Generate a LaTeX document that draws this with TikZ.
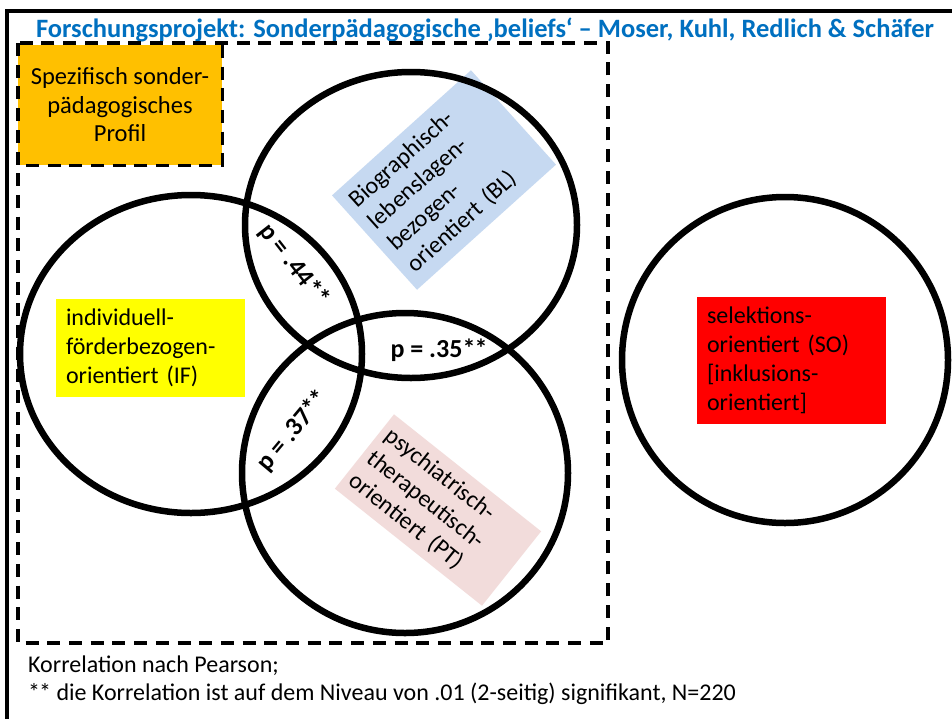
\documentclass[tikz,border=0pt]{standalone}
\usepackage{fontspec}
\setmainfont{Carlito}
\definecolor{titleblue}{RGB}{0,112,192}
\definecolor{profilorange}{RGB}{255,192,0}
\definecolor{ifyellow}{RGB}{255,255,0}
\definecolor{sored}{RGB}{255,0,0}
\definecolor{blblue}{RGB}{198,217,241}
\definecolor{ptpink}{RGB}{242,220,219}
\tikzset{
  dashbox/.style={line width=3.3pt, dash pattern=on 13pt off 8.7pt},
  ring/.style={line width=6.5pt},
  labeltext/.style={font=\fontsize{24}{29}\selectfont, text=black},
  corr/.style={font=\fontsize{26}{30}\selectfont\bfseries, text=black, inner sep=0pt},
  foot/.style={font=\fontsize{24}{28}\selectfont, anchor=base west, inner sep=0pt},
}
\begin{document}
\begin{tikzpicture}[x=1pt,y=-1pt]
\useasboundingbox (0,0) rectangle (952,718);
\fill[white] (0,0) rectangle (952,718);
% outer frame (cropped)
\begin{scope}
\clip (0,0) rectangle (952,718);
\draw[line width=4pt] (7,11) rectangle (990,760);
\end{scope}
% title
\node[font=\fontsize{26.5}{30}\selectfont\bfseries, text=titleblue, inner sep=0pt, anchor=base] (title) at (485,37) {Forschungsprojekt: Sonderpädagogische ‚beliefs‘ – Moser, Kuhl, Redlich \& Schäfer};
% orange profile box
\node[fill=profilorange, minimum width=204pt, minimum height=120pt, inner sep=0pt, font=\fontsize{24.5}{28.5}\selectfont, align=center] (profil) at (120,105) {Spezifisch sonder-\\pädagogisches\\Profil};
% big dashed box
\draw[dashbox] (18,43) rectangle (608,643);
\draw[dashbox] (profil.north east) -- (profil.south east) -- (profil.south west);
% rotated boxes
\node[fill=blblue, rotate=42, minimum width=187pt, minimum height=122pt, text width=167pt, inner sep=10pt, align=left, labeltext] (bl) at (444,180) {Biographisch-\\lebenslagen-\\bezogen-\\orientiert (BL)};
\node[fill=ptpink, rotate=-38.5, minimum width=188pt, minimum height=95pt, text width=174pt, inner sep=7pt, align=left, labeltext] (pt) at (438,510) {psychiatrisch-\\therapeutisch-\\orientiert (PT)};
% flat boxes
\node[fill=ifyellow, minimum width=189pt, minimum height=97pt, text width=169pt, inner sep=10pt, align=left, labeltext] (if) at (150.5,347.5) {individuell-\\förderbezogen-\\orientiert (IF)};
\node[fill=sored, minimum width=189pt, minimum height=125pt, text width=169pt, inner sep=10pt, align=left, labeltext] (so) at (791.5,360.5) {selektions-\\orientiert (SO)\\{[}inklusions-\\orientiert{]}};
% circles
\draw[ring] (191,354) ellipse [x radius=171pt, y radius=159pt];
\draw[ring] (411,225) ellipse [x radius=166pt, y radius=153pt];
\draw[ring] (405,473) ellipse [x radius=163pt, y radius=160pt];
\draw[ring] (785,360) ellipse [x radius=163pt, y radius=163pt];
% correlations
\node[corr, rotate=-52] (p44) at (294,265) {p = .44*\kern-1pt*};
\node[corr] (p35) at (439,350) {p = .35*\kern-1pt*};
\node[corr, rotate=50] (p37) at (293,431) {p = .37*\kern-1pt*};
% footer
\node[foot] (f1) at (28,672) {Korrelation nach Pearson;};
\node[foot] (f2) at (28,700) {*\kern-1pt* die Korrelation ist auf dem Niveau von .01 (2-seitig) signifikant, N=220};
\end{tikzpicture}
\end{document}
